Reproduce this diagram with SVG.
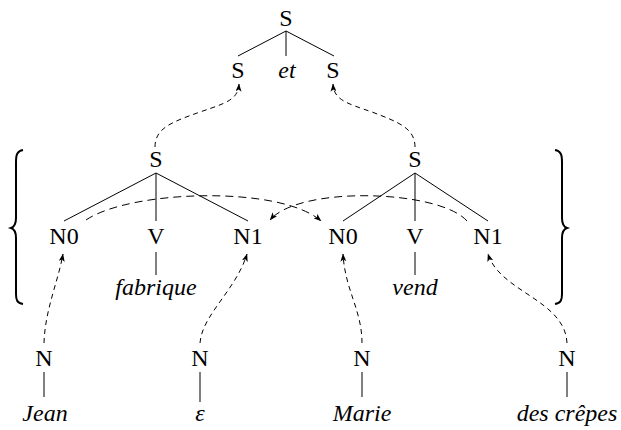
<svg xmlns="http://www.w3.org/2000/svg" width="621" height="430" viewBox="0 0 621 430">
<defs>
<marker id="ah" viewBox="0 0 8 6" refX="7.5" refY="3" markerWidth="8" markerHeight="6" markerUnits="userSpaceOnUse" orient="auto">
<path d="M0,0 L8,3 L0,6 L2,3 z" fill="#000"/>
</marker>
<style>
text{font-family:'Liberation Serif',serif;font-size:24px;fill:#000;text-anchor:middle}
.w{font-style:italic}
.t{stroke:#000;stroke-width:1;fill:none}
.d{stroke:#000;stroke-width:1;fill:none;stroke-dasharray:5 4;marker-end:url(#ah)}
.da{stroke:#000;stroke-width:1;fill:none;stroke-dasharray:8 5;marker-end:url(#ah)}
.b{stroke:#000;stroke-width:2;fill:none}
</style>
</defs>
<g id="top">
<text x="286" y="26">S</text>
<line class="t" x1="286" y1="31" x2="238" y2="56"/>
<line class="t" x1="286" y1="31" x2="286" y2="56"/>
<line class="t" x1="286" y1="31" x2="334" y2="56"/>
<text x="238" y="78">S</text>
<text class="w" x="287" y="78">et</text>
<text x="333" y="78">S</text>
</g>
<g id="tree1">
<text x="156" y="167">S</text>
<line class="t" x1="156" y1="173" x2="64" y2="221"/>
<line class="t" x1="156" y1="173" x2="156" y2="221"/>
<line class="t" x1="156" y1="173" x2="248" y2="221"/>
<text x="64" y="244">N0</text>
<text x="156" y="244">V</text>
<text x="248" y="244">N1</text>
<line class="t" x1="156" y1="252" x2="156" y2="275"/>
<text class="w" x="156" y="295">fabrique</text>
</g>
<g id="tree2">
<text x="415" y="167">S</text>
<line class="t" x1="415" y1="173" x2="343" y2="221"/>
<line class="t" x1="415" y1="173" x2="415" y2="221"/>
<line class="t" x1="415" y1="173" x2="488" y2="221"/>
<text x="343" y="244">N0</text>
<text x="415" y="244">V</text>
<text x="488" y="244">N1</text>
<line class="t" x1="415" y1="252" x2="415" y2="275"/>
<text class="w" x="415" y="295">vend</text>
</g>
<g id="n-jean">
<text x="44" y="366">N</text>
<line class="t" x1="44" y1="372" x2="44" y2="397"/>
<text class="w" x="45" y="421">Jean</text>
</g>
<g id="n-eps">
<text x="200" y="366">N</text>
<line class="t" x1="200" y1="372" x2="200" y2="402"/>
<text class="w" x="200" y="421">ε</text>
</g>
<g id="n-marie">
<text x="362" y="366">N</text>
<line class="t" x1="362" y1="372" x2="362" y2="397"/>
<text class="w" x="362" y="421">Marie</text>
</g>
<g id="n-crepes">
<text x="567" y="366">N</text>
<line class="t" x1="567" y1="372" x2="567" y2="397"/>
<text class="w" x="567" y="421">des crêpes</text>
</g>
<g id="braces">
<path class="b" d="M23,150 C17,151 16,155 16,162 L16,218 C16,224 14,227 11,228 C14,229 16,232 16,238 L16,294 C16,300 17,303 23,304"/>
<path class="b" d="M555,150 C561,151 562,155 562,162 L562,218 C562,224 564,227 567,228 C564,229 562,232 562,238 L562,294 C562,300 561,303 555,304"/>
</g>
<g id="connectors">
<path class="d" d="M155,147 C155,128 172,122 200,112 C226,103 238,100 239,84"/>
<path class="d" d="M415,147 C415,128 398,122 372,112 C346,103 334,100 333,84"/>
<path class="da" d="M86,220 C130,190 280,185 321,221"/>
<path class="da" d="M467,221 C440,190 300,185 270,220"/>
<path class="d" d="M44,343 C45,310 58,282 63,254"/>
<path class="d" d="M200,343 C202,315 236,290 247,254"/>
<path class="d" d="M362,343 C362,310 345,290 343,254"/>
<path class="d" d="M567,343 C565,300 500,292 488,254"/>
</g>
</svg>
